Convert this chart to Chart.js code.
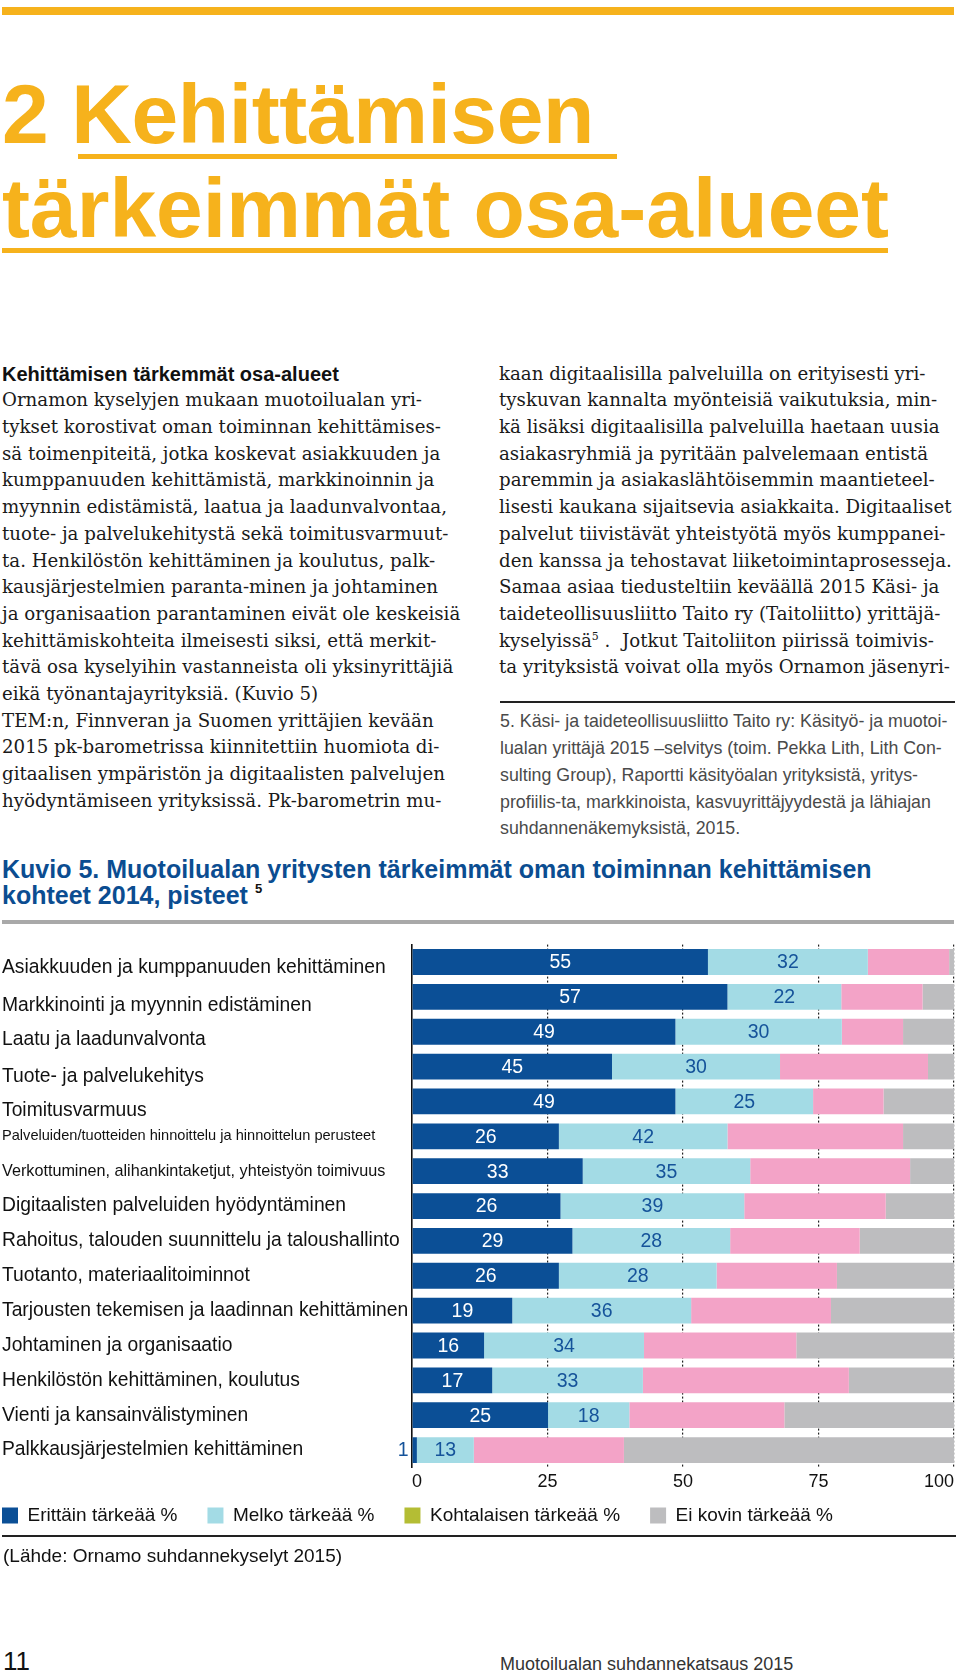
<!DOCTYPE html>
<html lang="fi"><head><meta charset="utf-8">
<script src="https://cdn.jsdelivr.net/npm/chart.js@4.4.1/dist/chart.umd.min.js"></script>
<style>
html,body{margin:0;padding:0;background:#fff;}
body{width:960px;height:1674px;position:relative;overflow:hidden;font-family:"Liberation Sans",Arial,Helvetica,sans-serif;color:#111;}
.rule{position:absolute;}
.h1{position:absolute;left:2px;font-weight:bold;font-size:84px;line-height:84px;color:#f6b21c;white-space:nowrap;}
.col{position:absolute;line-height:26.7px;white-space:nowrap;}
.serif{font-family:"DejaVu Serif","Liberation Serif",serif;font-size:18.2px;color:#1a1a1a;}
.hd{font-family:"Liberation Sans",Arial,sans-serif;font-weight:bold;font-size:20px;color:#111;}
.fn{font-family:"Liberation Sans",Arial,sans-serif;font-size:17.8px;color:#4a4a4a;}
.ctitle{position:absolute;left:2px;font-weight:bold;font-size:25px;line-height:25px;color:#0b4d91;white-space:nowrap;}
sup{font-size:0.6em;line-height:0;}
</style>
</head><body>

<div class="rule" style="left:2px;top:7px;width:952px;height:7.5px;background:#f6b21c"></div>
<div class="h1" style="top:71.9px;letter-spacing:-0.4px">2 Kehittämisen</div>
<div class="rule" style="left:78px;top:154px;width:539px;height:4.5px;background:#f6b21c"></div>
<div class="h1" style="top:166.2px">tärkeimmät osa-alueet</div>
<div class="rule" style="left:2px;top:248px;width:886px;height:4.5px;background:#f6b21c"></div>

<div class="col" style="left:2px;top:360.6px">
<div class="hd">Kehittämisen tärkemmät osa-alueet</div>
<div class="serif">Ornamon kyselyjen mukaan muotoilualan yri-</div>
<div class="serif">tykset korostivat oman toiminnan kehittämises-</div>
<div class="serif">sä toimenpiteitä, jotka koskevat asiakkuuden ja</div>
<div class="serif">kumppanuuden kehittämistä, markkinoinnin ja</div>
<div class="serif">myynnin edistämistä, laatua ja laadunvalvontaa,</div>
<div class="serif">tuote- ja palvelukehitystä sekä toimitusvarmuut-</div>
<div class="serif">ta. Henkilöstön kehittäminen ja koulutus, palk-</div>
<div class="serif">kausjärjestelmien paranta-minen ja johtaminen</div>
<div class="serif">ja organisaation parantaminen eivät ole keskeisiä</div>
<div class="serif">kehittämiskohteita ilmeisesti siksi, että merkit-</div>
<div class="serif">tävä osa kyselyihin vastanneista oli yksinyrittäjiä</div>
<div class="serif">eikä työnantajayrityksiä. (Kuvio 5)</div>
<div class="serif">TEM:n, Finnveran ja Suomen yrittäjien kevään</div>
<div class="serif">2015 pk-barometrissa kiinnitettiin huomiota di-</div>
<div class="serif">gitaalisen ympäristön ja digitaalisten palvelujen</div>
<div class="serif">hyödyntämiseen yrityksissä. Pk-barometrin mu-</div>
</div>

<div class="col" style="left:499px;top:360.6px">
<div class="serif">kaan digitaalisilla palveluilla on erityisesti yri-</div>
<div class="serif">tyskuvan kannalta myönteisiä vaikutuksia, min-</div>
<div class="serif">kä lisäksi digitaalisilla palveluilla haetaan uusia</div>
<div class="serif">asiakasryhmiä ja pyritään palvelemaan entistä</div>
<div class="serif">paremmin ja asiakaslähtöisemmin maantieteel-</div>
<div class="serif">lisesti kaukana sijaitsevia asiakkaita. Digitaaliset</div>
<div class="serif">palvelut tiivistävät yhteistyötä myös kumppanei-</div>
<div class="serif">den kanssa ja tehostavat liiketoimintaprosesseja.</div>
<div class="serif">Samaa asiaa tiedusteltiin keväällä 2015 Käsi- ja</div>
<div class="serif">taideteollisuusliitto Taito ry (Taitoliitto) yrittäjä-</div>
<div class="serif">kyselyissä<sup>5</sup> .&nbsp; Jotkut Taitoliiton piirissä toimivis-</div>
<div class="serif">ta yrityksistä voivat olla myös Ornamon jäsenyri-</div>
</div>

<div class="rule" style="left:500px;top:701px;width:455px;height:1.5px;background:#222"></div>
<div class="col" style="left:500px;top:708.4px">
<div class="fn">5. Käsi- ja taideteollisuusliitto Taito ry: Käsityö- ja muotoi-</div>
<div class="fn">lualan yrittäjä 2015 –selvitys (toim. Pekka Lith, Lith Con-</div>
<div class="fn">sulting Group), Raportti käsityöalan yrityksistä, yritys-</div>
<div class="fn">profiilis-ta, markkinoista, kasvuyrittäjyydestä ja lähiajan</div>
<div class="fn">suhdannenäkemyksistä, 2015.</div>
</div>

<div class="ctitle" style="top:857px">Kuvio 5. Muotoilualan yritysten tärkeimmät oman toiminnan kehittämisen</div>
<div class="ctitle" style="top:883px">kohteet 2014, pisteet <sup style="color:#111;font-size:13px;position:relative;top:-2px">5</sup></div>
<div class="rule" style="left:2px;top:920px;width:952px;height:4.3px;background:#a9a9a9"></div>

<div id="wrap" style="position:absolute;left:0;top:930px;width:960px;height:630px"><canvas id="c"></canvas></div>

<div class="rule" style="left:2px;top:1535px;width:954px;height:1.5px;background:#222"></div>
<div style="position:absolute;left:3px;top:1546px;font-size:19px;line-height:19px;white-space:nowrap;color:#111">(Lähde: Ornamo suhdannekyselyt 2015)</div>

<div style="position:absolute;left:3px;top:1648px;font-size:26px;line-height:26px;color:#111">11</div>
<div style="position:absolute;left:500px;top:1654.8px;font-size:18px;line-height:18px;color:#333;white-space:nowrap">Muotoilualan suhdannekatsaus 2015</div>

<script>
// ---- data ----
const categories = [
  'Asiakkuuden ja kumppanuuden kehittäminen',
  'Markkinointi ja myynnin edistäminen',
  'Laatu ja laadunvalvonta',
  'Tuote- ja palvelukehitys',
  'Toimitusvarmuus',
  'Palveluiden/tuotteiden hinnoittelu ja hinnoittelun perusteet',
  'Verkottuminen, alihankintaketjut, yhteistyön toimivuus',
  'Digitaalisten palveluiden hyödyntäminen',
  'Rahoitus, talouden suunnittelu ja taloushallinto',
  'Tuotanto, materiaalitoiminnot',
  'Tarjousten tekemisen ja laadinnan kehittäminen',
  'Johtaminen ja organisaatio',
  'Henkilöstön kehittäminen, koulutus',
  'Vienti ja kansainvälistyminen',
  'Palkkausjärjestelmien kehittäminen'
];
const seriesNames = ['Erittäin tärkeää %', 'Melko tärkeää %', 'Kohtalaisen tärkeää %', 'Ei kovin tärkeää %'];
// bar lengths as drawn in the picture
const erittain    = [54.6, 58.2, 48.6, 36.9, 48.6, 27.1, 31.5, 27.4, 29.6, 27.1, 18.5, 13.3, 14.8, 25.1, 0.9];
const melko       = [29.5, 21.0, 30.7, 31.0, 25.4, 31.1, 30.9, 33.9, 29.1, 29.1, 33.0, 29.5, 27.8, 15.0, 10.5];
const kohtalainen = [15.0, 15.0, 11.3, 27.3, 13.0, 32.4, 29.5, 26.1, 23.9, 22.2, 25.8, 28.1, 38.0, 28.6, 27.7];
const eiKovin     = [0.9, 5.8, 9.4, 4.8, 13.0, 9.4, 8.1, 12.6, 17.4, 21.6, 22.7, 29.1, 19.4, 31.3, 60.9];
// numbers printed on the bars
const erittainPrinted = [55, 57, 49, 45, 49, 26, 33, 26, 29, 26, 19, 16, 17, 25, 1];
const melkoPrinted    = [32, 22, 30, 30, 25, 42, 35, 39, 28, 28, 36, 34, 33, 18, 13];
const xTicks = [0, 25, 50, 75, 100];

// ---- styles ----
const barColors = ['#0b4f96', '#a3dbe5', '#f3a3c7', '#bdbdbf'];
const legendColors = ['#0b4f96', '#a3dbe5', '#b4bd34', '#bdbdbf'];
const labelColors = ['#ffffff', '#15539a'];
const FONT = '"Liberation Sans", Arial, Helvetica, sans-serif';
const labelSizes = [19.3, 19.3, 19.3, 19.3, 19.3, 14.6, 16.2, 19.3, 19.3, 19.3, 19.3, 19.3, 19.3, 19.3, 19.3];
// in the original the first five category labels sit a little below their bars (px)
const labelDrop = [6, 8.5, 8, 10, 9.5, 0, 0, 0, 0, 0, 0, 0, 0, 0, 0];

const printedSeries = [erittainPrinted, melkoPrinted];

const barLabels = {
  id: 'barLabels',
  afterDatasetsDraw(chart) {
    const ctx = chart.ctx;
    ctx.save();
    ctx.font = '19.5px ' + FONT;
    ctx.textBaseline = 'middle';
    printedSeries.forEach((printed, di) => {
      const meta = chart.getDatasetMeta(di);
      meta.data.forEach((bar, i) => {
        const p = bar.getProps(['x', 'y', 'base'], true);
        const txt = String(printed[i]);
        const w = ctx.measureText(txt).width;
        const l = Math.min(p.x, p.base), r = Math.max(p.x, p.base);
        if (r - l < w + 4) {
          ctx.textAlign = 'right';
          ctx.fillStyle = labelColors[1];
          ctx.fillText(txt, l - 4, p.y + 1);
        } else {
          ctx.textAlign = 'center';
          ctx.fillStyle = labelColors[di];
          ctx.fillText(txt, (l + r) / 2, p.y + 1);
        }
      });
    });
    ctx.restore();
  }
};

// legend sits right under the tick labels, starting at the page's left margin
const legendShift = {
  id: 'legendShift',
  afterLayout(chart) {
    const lg = chart.legend;
    if (!lg) return;
    const pad = lg.options.labels.padding;
    lg.left = 2 - pad;
    lg.top = chart.chartArea.bottom + 48 - pad - 9.5;
  }
};

const values = [erittain, melko, kohtalainen, eiKovin];
new Chart(document.getElementById('c'), {
  type: 'bar',
  data: {
    labels: categories,
    datasets: values.map((v, i) => ({
      label: seriesNames[i],
      data: v,
      backgroundColor: barColors[i],
      borderWidth: 0,
      barPercentage: 0.74,
      categoryPercentage: 1.0
    }))
  },
  options: {
    indexAxis: 'y',
    responsive: true,
    maintainAspectRatio: false,
    animation: false,
    devicePixelRatio: 1,
    layout: { padding: { top: 12.5, left: 2, right: 6, bottom: 0 } },
    scales: {
      x: {
        stacked: true, min: 0, max: 100,
        afterBuildTicks(scale) { scale.ticks = xTicks.map(v => ({ value: v })); },
        afterFit(scale) { scale.height = 33.5; scale.paddingLeft = 0; scale.paddingRight = 0; },
        border: { display: false, dash: [2, 2] },
        grid: {
          drawTicks: false,
          lineWidth: 1.2,
          color: (c) => (c.tick && c.tick.value === 0) ? 'rgba(0,0,0,0)' : '#222'
        },
        ticks: { padding: 4, align: 'inner', color: '#111', font: { family: FONT, size: 18 } }
      },
      y: {
        stacked: true,
        afterFit(scale) { scale.width = 410; },
        border: { display: true, color: '#111', width: 1.6 },
        grid: { display: false, drawTicks: false },
        ticks: {
          autoSkip: false,
          crossAlign: 'far',
          color: '#111',
          callback(value, index) {
            const lbl = this.getLabelForValue(value);
            return labelDrop[index] ? ['', lbl] : lbl;
          },
          font: (c) => {
            const s = labelSizes[c.index] || 19.3;
            const d = labelDrop[c.index] || 0;
            return { family: FONT, size: s, lineHeight: d ? (2 * d) / s : 1.2 };
          }
        }
      }
    },
    plugins: {
      legend: {
        position: 'bottom',
        align: 'start',
        labels: {
          boxWidth: 16, boxHeight: 16, padding: 30,
          color: '#111', font: { family: FONT, size: 19 },
          generateLabels(chart) {
            const items = Chart.defaults.plugins.legend.labels.generateLabels(chart);
            items.forEach((it, i) => { it.fillStyle = legendColors[i]; it.strokeStyle = legendColors[i]; it.lineWidth = 0; });
            return items;
          }
        }
      },
      tooltip: { enabled: false }
    }
  },
  plugins: [barLabels, legendShift]
});
</script>
</body></html>
